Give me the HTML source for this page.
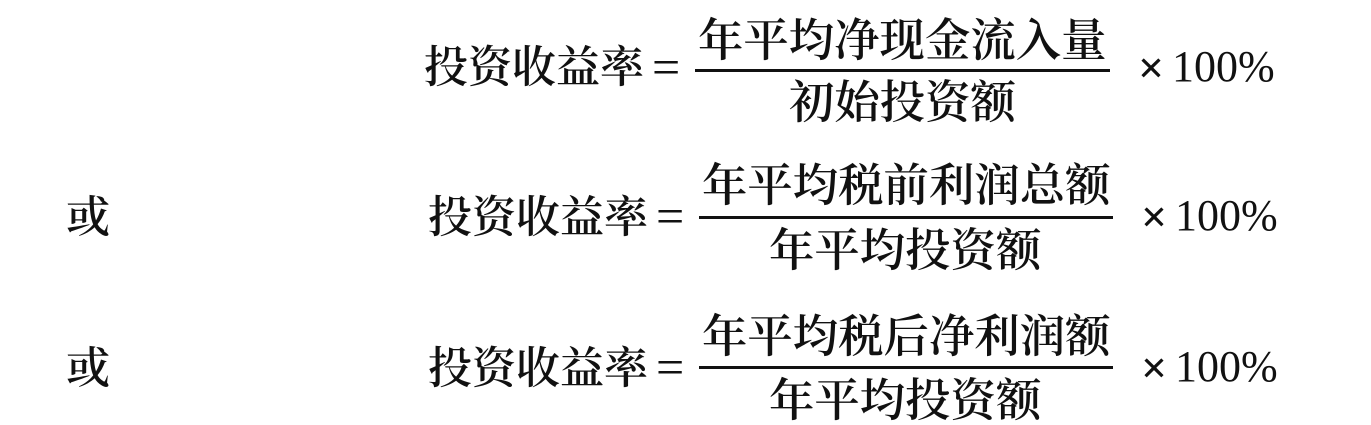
<!DOCTYPE html>
<html lang="zh">
<head>
<meta charset="utf-8">
<style>
html,body{margin:0;padding:0;background:#fff;}
#c{position:relative;width:1371px;height:425px;overflow:hidden;background:#fff;color:#111;font-family:"Liberation Serif","Noto Serif CJK SC",serif;}
.t{position:absolute;font-size:44px;line-height:50px;white-space:nowrap;font-weight:600;}
.f{font-size:45.4px;}
.l{position:absolute;height:3px;background:#111;}
.e{font-family:"Liberation Serif",serif;font-size:50px;font-weight:400;}
.x{font-family:"Liberation Serif",serif;font-size:46px;font-weight:700;}
.n{font-family:"Liberation Serif",serif;font-size:44px;font-weight:400;}
</style>
</head>
<body>
<div id="c">
<div class="t" style="left:424px;top:43px">投资收益率</div>
<div class="t e" style="left:652px;top:42px">=</div>
<div class="t f" style="left:698px;top:16px">年平均净现金流入量</div>
<div class="l" style="left:695px;top:69px;width:415px"></div>
<div class="t f" style="left:789px;top:78px">初始投资额</div>
<div class="t x" style="left:1138px;top:43px">×</div>
<div class="t n" style="left:1172px;top:42px">100%</div>

<div class="t" style="left:66px;top:193px">或</div>
<div class="t" style="left:428px;top:193px">投资收益率</div>
<div class="t e" style="left:656px;top:191px">=</div>
<div class="t f" style="left:702px;top:161px">年平均税前利润总额</div>
<div class="l" style="left:699px;top:216px;width:414px"></div>
<div class="t f" style="left:769px;top:226px">年平均投资额</div>
<div class="t x" style="left:1141px;top:192px">×</div>
<div class="t n" style="left:1175px;top:191px">100%</div>

<div class="t" style="left:66px;top:344px">或</div>
<div class="t" style="left:428px;top:344px">投资收益率</div>
<div class="t e" style="left:656px;top:342px">=</div>
<div class="t f" style="left:702px;top:312px">年平均税后净利润额</div>
<div class="l" style="left:699px;top:366px;width:414px"></div>
<div class="t f" style="left:769px;top:376px">年平均投资额</div>
<div class="t x" style="left:1141px;top:343px">×</div>
<div class="t n" style="left:1175px;top:342px">100%</div>
</div>
</body>
</html>
